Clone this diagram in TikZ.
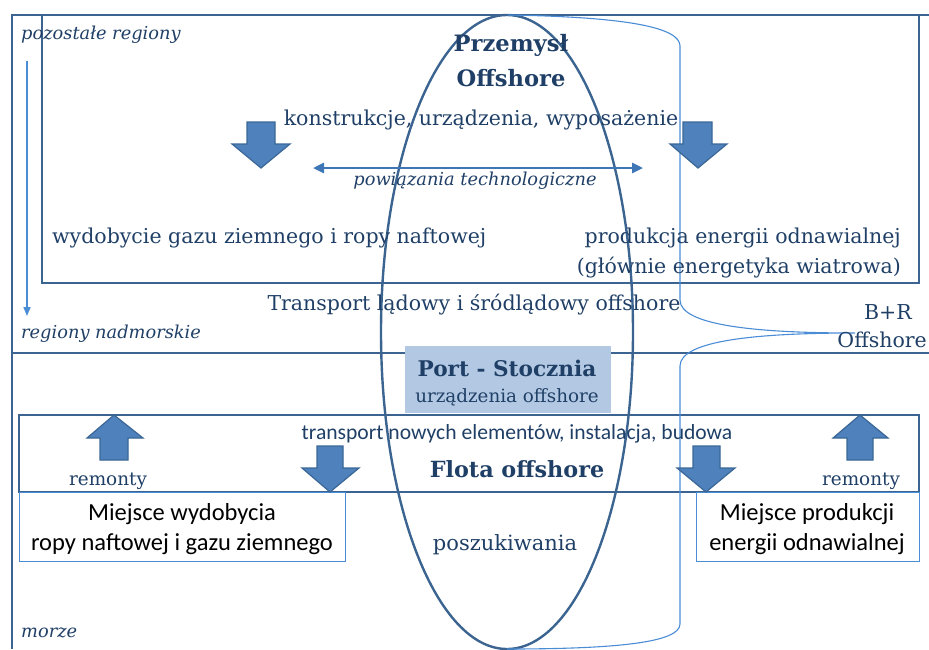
\documentclass[tikz,border=0pt]{standalone}
\usepackage{fontspec}
\setmainfont{DejaVu Serif}
\newfontfamily\calib{Carlito}
\usetikzlibrary{arrows.meta,shapes.geometric}
\definecolor{txtblue}{HTML}{1F3F66}
\definecolor{frameblue}{HTML}{3B6490}
\definecolor{arrowfill}{HTML}{4F81BD}
\definecolor{arrowedge}{HTML}{3A6795}
\definecolor{lightline}{HTML}{4A8CD6}
\definecolor{portfill}{HTML}{B3C9E3}
\newcommand\myfsz[1]{\fontsize{#1}{#1}\selectfont}
\tikzset{
  frame/.style={draw=frameblue, line width=2.7pt},
  thinbox/.style={draw=lightline, line width=0.9pt},
  bracket/.style={draw=lightline, line width=1.1pt},
  blockarrow/.style={fill=arrowfill, draw=arrowedge, line width=1.2pt, line join=miter},
  lbl/.style={text=txtblue, inner sep=0pt, anchor=center},
  sublbl/.style={lbl, font=\myfsz{17.8}\itshape},
  mainlbl/.style={lbl, font=\myfsz{20.5}},
  boldlbl/.style={lbl, font=\myfsz{22.6}\bfseries},
  sanslbl/.style={inner sep=0pt, anchor=center, font=\calib\myfsz{24.5}},
}
\begin{document}
\begin{tikzpicture}[x=1pt,y=-1pt]
\useasboundingbox (0,0) rectangle (929,649);
% frames
\draw[frame] (12,649) -- (12,15) -- (935,15);
\draw[frame] (42,15) rectangle (919,283);
\draw[frame] (12,353) -- (935,353);
\draw[frame] (19,415) rectangle (919,492);
% port box
\fill[portfill] (405,346) rectangle (611,413);
% bottom boxes
\draw[thinbox] (19,492) rectangle (345,561);
\draw[thinbox] (696,492) rectangle (919,561);
% ellipse
\node[draw=frameblue, line width=2.4pt, ellipse, minimum width=252pt, minimum height=634pt, inner sep=0pt] (ell) at (507,332) {};
% bracket B+R
\coordinate (brtop) at (508,15);
\coordinate (brtip) at (855,333);
\coordinate (brbot) at (507,649);
\draw[bracket] (brtop) .. controls (630,17) and (680,28) .. (680,46) -- (680,300)
  .. controls (680,326) and (760,333) .. (brtip)
  .. controls (760,333) and (680,340) .. (680,366) -- (680,624)
  .. controls (680,642) and (620,649) .. (brbot);
% left vertical arrow
\coordinate (la1) at (27,61);
\coordinate (la2) at (27,316);
\draw[lightline, line width=1.6pt, -{Triangle[length=9pt,width=7pt]}] (la1) -- (la2);
% technological links arrow
\coordinate (ta1) at (313,168);
\coordinate (ta2) at (643,168);
\draw[draw=lightline!85!black, line width=2.6pt, {Triangle[length=11pt,width=10pt]}-{Triangle[length=11pt,width=10pt]}] (ta1) -- (ta2);
% block arrows
\draw[blockarrow] (247,122)--(275,122)--(275,144)--(290,144)--(261,168)--(232,144)--(247,144)--cycle;
\draw[blockarrow] (683,122)--(712,122)--(712,144)--(727,144)--(698,168)--(670,144)--(683,144)--cycle;
\draw[blockarrow] (317,446)--(343,446)--(343,468)--(359,468)--(330,492)--(302,468)--(317,468)--cycle;
\draw[blockarrow] (693,446)--(720,446)--(720,468)--(735,468)--(706,492)--(677,468)--(693,468)--cycle;
\draw[blockarrow] (100,460)--(128,460)--(128,438)--(143,438)--(114,415)--(87,438)--(100,438)--cycle;
\draw[blockarrow] (847,460)--(873,460)--(873,438)--(888,438)--(860,415)--(833,438)--(847,438)--cycle;
% texts
\node[sublbl, anchor=west] (t1) at (21,35) {pozostałe regiony};
\node[sublbl, anchor=west] (t2) at (21,334) {regiony nadmorskie};
\node[sublbl, anchor=west] (t3) at (21,633) {morze};
\node[boldlbl] (t4) at (511,45) {Przemysł};
\node[boldlbl] (t5) at (511,78) {Offshore};
\node[mainlbl] (t6) at (481,120) {konstrukcje, urządzenia, wyposażenie};
\node[sublbl] (t7) at (475,181) {powiązania technologiczne};
\node[mainlbl, anchor=west] (t8) at (52,238) {wydobycie gazu ziemnego i ropy naftowej};
\node[mainlbl, anchor=east] (t9) at (901,238) {produkcja energii odnawialnej};
\node[mainlbl, anchor=east] (t10) at (901,268) {(głównie energetyka wiatrowa)};
\node[mainlbl] (t11) at (474,305) {Transport lądowy i śródlądowy offshore};
\node[mainlbl] (t12) at (888,312) {B+R};
\node[mainlbl, anchor=east] (t13) at (927,340) {Offshore};
\node[boldlbl, font=\myfsz{21.6}\bfseries] (t14) at (507,368) {Port - Stocznia};
\node[lbl, font=\myfsz{18.3}] (t15) at (507,397) {urządzenia offshore};
\node[sanslbl, text=txtblue, font=\calib\myfsz{21.6}] (t16) at (517,434) {transport nowych elementów, instalacja, budowa};
\node[boldlbl, font=\myfsz{22.3}\bfseries] (t17) at (517,469) {Flota offshore};
\node[lbl, font=\myfsz{18.4}] (t18) at (108,481) {remonty};
\node[lbl, font=\myfsz{18.4}] (t19) at (861,481) {remonty};
\node[sanslbl] (t20) at (182,514) {Miejsce wydobycia};
\node[sanslbl] (t21) at (182,544) {ropy naftowej i gazu ziemnego};
\node[sanslbl] (t22) at (807,514) {Miejsce produkcji};
\node[sanslbl] (t23) at (807,544) {energii odnawialnej};
\node[lbl, font=\myfsz{21}] (t24) at (505,545) {poszukiwania};
\end{tikzpicture}
\end{document}
